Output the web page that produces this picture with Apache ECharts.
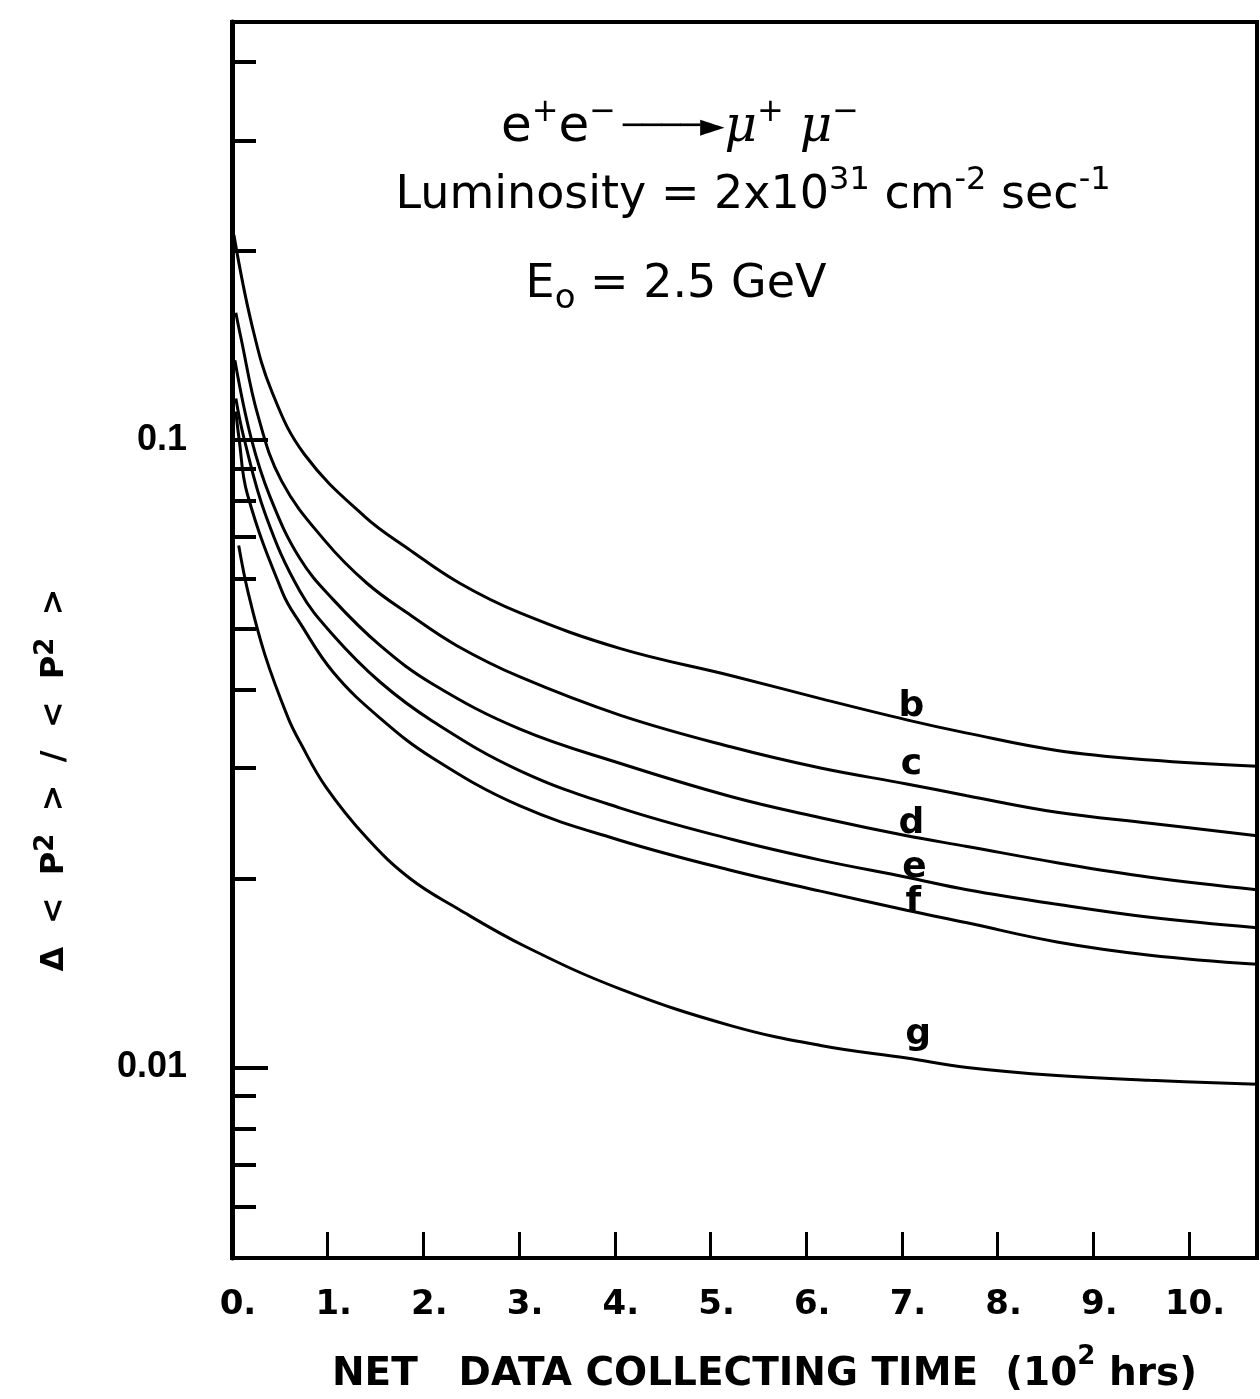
<!DOCTYPE html>
<html><head><meta charset="utf-8">
<script src="https://cdn.jsdelivr.net/npm/echarts@6/dist/echarts.min.js"></script>
<style>html,body{margin:0;padding:0;background:#fff}#c{width:1260px;height:1399px}</style>
</head><body><div id="c"></div>
<script>
// ---- data ----
const curveNames = ['b', 'c', 'd', 'e', 'f', 'g'];

const bT = [0.02, 0.21, 0.42, 0.76, 1.39, 1.84, 2.38, 3.01, 4.06, 5.22, 6.15, 7.05, 7.68, 8.62, 9.59, 10.71];
const bV = [0.212, 0.152, 0.119, 0.0947, 0.0754, 0.0671, 0.0591, 0.0530, 0.0465, 0.0421, 0.0387, 0.0358, 0.0341, 0.0320, 0.0309, 0.0302];

const cT = [0.04, 0.09, 0.27, 0.52, 0.97, 1.41, 1.87, 2.35, 3.01, 4.06, 5.22, 6.15, 7.05, 7.68, 8.62, 9.59, 10.71];
const cV = [0.1595, 0.1463, 0.1095, 0.0859, 0.0691, 0.0591, 0.0525, 0.0470, 0.0419, 0.0364, 0.0324, 0.0300, 0.0283, 0.0271, 0.0255, 0.0245, 0.0234];

const dT = [0.03, 0.20, 0.40, 0.71, 1.06, 1.55, 2.10, 3.01, 4.06, 5.22, 6.15, 7.05, 7.68, 8.62, 9.59, 10.71];
const dV = [0.134, 0.1007, 0.081, 0.0647, 0.0556, 0.0470, 0.0408, 0.0346, 0.0305, 0.0270, 0.0250, 0.0234, 0.0225, 0.0212, 0.0201, 0.0192];

const eT = [0.04, 0.125, 0.35, 0.71, 1.06, 1.55, 2.10, 3.01, 4.06, 5.22, 6.15, 7.05, 7.68, 8.62, 9.59, 10.71];
const eV = [0.1164, 0.1007, 0.076, 0.0574, 0.0488, 0.0411, 0.0356, 0.0297, 0.0259, 0.0231, 0.0214, 0.0201, 0.0192, 0.0182, 0.01735, 0.0167];

const fT = [0.04, 0.073, 0.16, 0.53, 0.71, 1.06, 1.55, 2.10, 3.01, 4.06, 5.22, 6.15, 7.05, 7.68, 8.62, 9.59, 10.71];
const fV = [0.111, 0.1007, 0.082, 0.057, 0.0511, 0.0426, 0.0360, 0.0311, 0.0261, 0.0230, 0.0206, 0.0191, 0.0178, 0.0170, 0.01585, 0.0151, 0.0146];

const gT = [0.07, 0.17, 0.345, 0.585, 0.71, 0.98, 1.41, 1.86, 2.36, 3.06, 4.06, 5.22, 6.15, 7.05, 7.68, 8.62, 9.59, 10.71];
const gV = [0.0679, 0.0570, 0.0454, 0.0361, 0.0330, 0.0280, 0.0232, 0.0200, 0.0179, 0.0156, 0.01333, 0.01165, 0.01084, 0.01035, 0.0100, 0.00971, 0.00954, 0.0094];

// curve letter labels
const labelT = [7.10, 7.10, 7.10, 7.13, 7.12, 7.17];
const labelV = [0.0376, 0.0304, 0.0245, 0.0208, 0.0183, 0.0113];

// axes
const X_MIN = 0, X_MAX = 10.71, X_STEP = 1;
const Y_MIN = 0.00497, Y_MAX = 0.4634;
const yMajorTicks = [0.01, 0.1];
const yMajorLabels = ['0.01', '0.1'];
const yMinorTicks = [0.006, 0.007, 0.008, 0.009, 0.02, 0.03, 0.04, 0.05, 0.06, 0.07, 0.08, 0.09, 0.2, 0.3, 0.4];

const xNameA = 'NET   DATA COLLECTING TIME  (10';
const xNameB = ' hrs)';

// ---- build chart ----
const curvesT = [bT, cT, dT, eT, fT, gT];
const curvesV = [bV, cV, dV, eV, fV, gV];
const zip = (a, b) => a.map((x, i) => [x, b[i]]);
const lg = Math.log10;

const chart = echarts.init(document.getElementById('c'), null, { renderer: 'canvas' });

const series = curveNames.map((n, i) => ({
  name: n, type: 'line', xAxisIndex: 0, yAxisIndex: 0,
  data: zip(curvesT[i], curvesV[i]),
  showSymbol: false, symbol: 'none', smooth: 0.4,
  lineStyle: { color: '#000', width: 3 }, silent: true, z: 3
}));
series.push({
  name: 'labels', type: 'scatter', xAxisIndex: 0, yAxisIndex: 0,
  data: curveNames.map((n, i) => ({ name: n, value: [labelT[i], labelV[i]] })),
  symbolSize: 1, itemStyle: { color: '#fff' }, silent: true, z: 5,
  label: { show: true, position: 'inside', formatter: '{b}', color: '#000', opacity: 1,
    textBorderWidth: 0, fontFamily: 'DejaVu Sans', fontWeight: 'bold', fontSize: 36 }
});

const sup = (fs) => ({ fontSize: fs, lineHeight: fs, verticalAlign: 'top', fontFamily: 'DejaVu Sans', fill: '#000' });

chart.setOption({
  animation: false,
  backgroundColor: '#fff',
  grid: { left: 232, right: 3, top: 22, bottom: 128, show: true, borderColor: '#000', borderWidth: 4, containLabel: false },
  xAxis: [{
    type: 'value', min: X_MIN, max: X_MAX, interval: X_STEP, position: 'bottom',
    axisLine: { show: true, lineStyle: { color: '#000', width: 4 } },
    axisTick: { show: true, inside: true, length: 26, lineStyle: { color: '#000', width: 3 } },
    axisLabel: { formatter: v => (Math.abs(v - Math.round(v)) < 1e-9 ? Math.round(v) + '.' : ''),
      showMaxLabel: false, color: '#000', fontFamily: 'DejaVu Sans', fontWeight: 'bold', fontSize: 34, margin: 30,
      padding: [0, 0, 0, 12] },
    splitLine: { show: false },
    name: '{t|' + xNameA + '}{s|2}{t|' + xNameB + '}', nameLocation: 'middle', nameGap: 86,
    nameTextStyle: { padding: [0, 0, 0, 40],
      rich: { t: { fontFamily: 'DejaVu Sans', fontWeight: 'bold', fontSize: 39, color: '#000', lineHeight: 50, verticalAlign: 'bottom' },
              s: { fontFamily: 'DejaVu Sans', fontWeight: 'bold', fontSize: 26, color: '#000', lineHeight: 26, verticalAlign: 'top' } } }
  }],
  yAxis: [{
    type: 'log', logBase: 10, min: Y_MIN, max: Y_MAX, position: 'left',
    axisLine: { show: true, lineStyle: { color: '#000', width: 5 } },
    axisTick: { show: false }, axisLabel: { show: false }, minorTick: { show: false },
    splitLine: { show: false }
  }, {
    type: 'value', min: lg(Y_MIN), max: lg(Y_MAX), position: 'left',
    axisLine: { show: false },
    axisTick: { show: true, inside: true, length: 36, customValues: yMajorTicks.map(lg), lineStyle: { color: '#000', width: 4 } },
    axisLabel: { show: true, customValues: yMajorTicks.map(lg), margin: 45, color: '#000', fontFamily: 'Liberation Sans', fontWeight: 'bold', fontSize: 36,
      formatter: v => { let k = 0; yMajorTicks.forEach((t, i) => { if (Math.abs(lg(t) - v) < Math.abs(lg(yMajorTicks[k]) - v)) k = i; }); return yMajorLabels[k]; } },
    splitLine: { show: false }
  }, {
    type: 'value', min: lg(Y_MIN), max: lg(Y_MAX), position: 'left',
    axisLine: { show: false },
    axisTick: { show: true, inside: true, length: 24, customValues: yMinorTicks.map(lg), lineStyle: { color: '#000', width: 4 } },
    axisLabel: { show: false },
    splitLine: { show: false }
  }],
  graphic: [
    { type: 'text', x: 680, y: 128, style: {
        text: '{m|e}{s|+}{m|e}{s|−}  {a|────►}{g|μ}{s|+}{g| μ}{s|−}',
        align: 'center', verticalAlign: 'middle', fill: '#000',
        rich: { m: { fontSize: 50, lineHeight: 62, fontFamily: 'DejaVu Sans', fill: '#000' },
                g: { fontSize: 50, lineHeight: 62, fontFamily: 'DejaVu Serif', fontStyle: 'italic', fill: '#000' },
                a: { fontSize: 32, lineHeight: 62, fontFamily: 'DejaVu Sans', fill: '#000' },
                s: sup(32) } } },
    { type: 'text', x: 753, y: 196, style: {
        text: '{m|Luminosity = 2x10}{s|31}{m| cm}{s|-2}{m| sec}{s|-1}',
        align: 'center', verticalAlign: 'middle', fill: '#000',
        rich: { m: { fontSize: 46, lineHeight: 62, fontFamily: 'DejaVu Sans', fill: '#000' }, s: sup(32) } } },
    { type: 'text', x: 676, y: 285, style: {
        text: '{m|E}{o|o}{m| = 2.5 GeV}',
        align: 'center', verticalAlign: 'middle', fill: '#000',
        rich: { m: { fontSize: 46, lineHeight: 62, fontFamily: 'DejaVu Sans', fill: '#000' },
                o: { fontSize: 34, lineHeight: 16, verticalAlign: 'bottom', fontFamily: 'DejaVu Sans', fill: '#000' } } } },
    { type: 'text', x: 55, y: 780, rotation: Math.PI / 2, style: {
        text: '{m|Δ  <  P}{s|2}{m|  >  /  <  P}{s|2}{m|  >}', align: 'center', verticalAlign: 'middle', fill: '#000',
        rich: { m: { fontSize: 32, lineHeight: 44, fontFamily: 'DejaVu Sans', fontWeight: 'bold', fill: '#000' },
                s: { fontSize: 26, lineHeight: 26, verticalAlign: 'top', fontFamily: 'DejaVu Sans', fontWeight: 'bold', fill: '#000' } } } }
  ],
  series: series
});
</script></body></html>
